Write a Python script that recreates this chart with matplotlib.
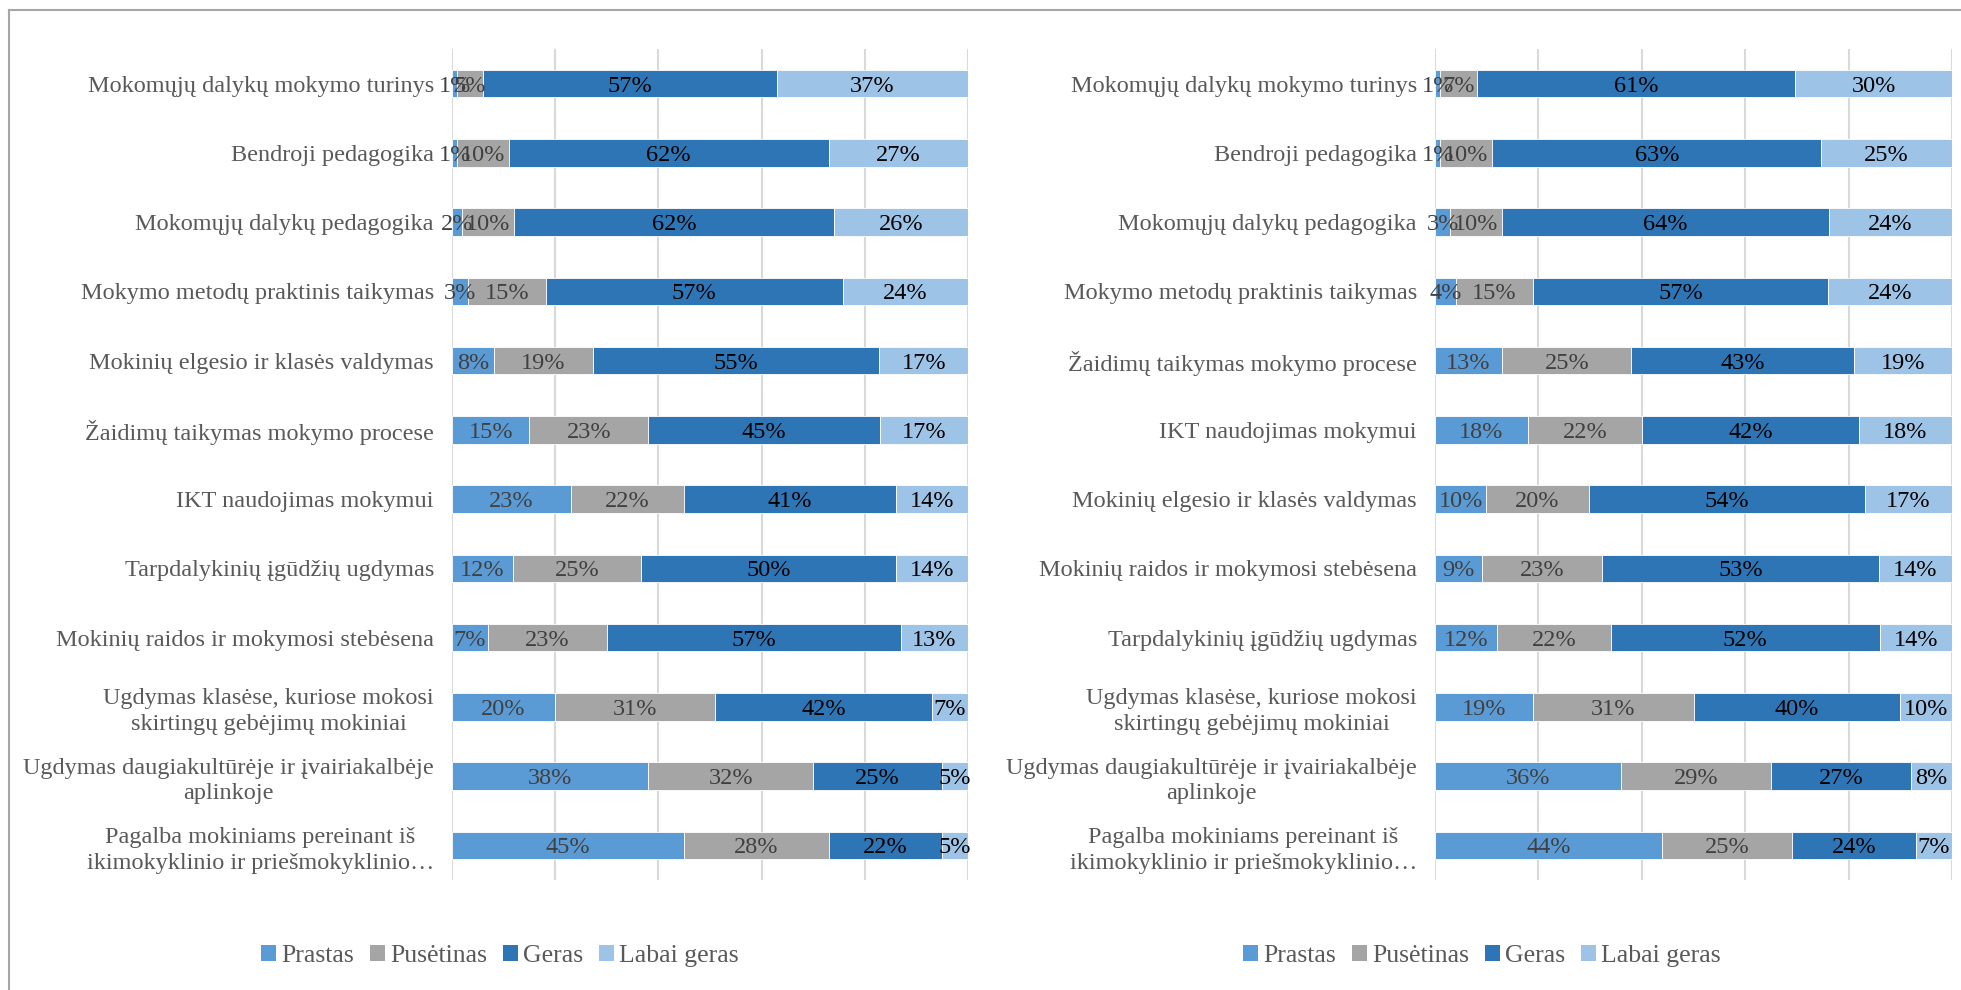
import matplotlib.pyplot as plt
from matplotlib.patches import Patch
import numpy as np

plt.rcParams['font.family'] = 'Liberation Serif'

series = ['Prastas', 'Pusėtinas', 'Geras', 'Labai geras']
colors = ['#5B9BD5', '#A5A5A5', '#2E75B6', '#9DC3E6']
label_colors = ['#404040', '#404040', '#000000', '#000000']

# kairioji diagrama (kategorijos iš viršaus į apačią)
cats_left = [
    'Mokomųjų dalykų mokymo turinys',
    'Bendroji pedagogika',
    'Mokomųjų dalykų pedagogika',
    'Mokymo metodų praktinis taikymas',
    'Mokinių elgesio ir klasės valdymas',
    'Žaidimų taikymas mokymo procese',
    'IKT naudojimas mokymui',
    'Tarpdalykinių įgūdžių ugdymas',
    'Mokinių raidos ir mokymosi stebėsena',
    'Ugdymas klasėse, kuriose mokosi\nskirtingų gebėjimų mokiniai',
    'Ugdymas daugiakultūrėje ir įvairiakalbėje\naplinkoje',
    'Pagalba mokiniams pereinant iš\nikimokyklinio ir priešmokyklinio…',
]
prastas_left = [1, 1, 2, 3, 8, 15, 23, 12, 7, 20, 38, 45]
pusetinas_left = [5, 10, 10, 15, 19, 23, 22, 25, 23, 31, 32, 28]
geras_left = [57, 62, 62, 57, 55, 45, 41, 50, 57, 42, 25, 22]
labai_left = [37, 27, 26, 24, 17, 17, 14, 14, 13, 7, 5, 5]

# dešinioji diagrama
cats_right = [
    'Mokomųjų dalykų mokymo turinys',
    'Bendroji pedagogika',
    'Mokomųjų dalykų pedagogika',
    'Mokymo metodų praktinis taikymas',
    'Žaidimų taikymas mokymo procese',
    'IKT naudojimas mokymui',
    'Mokinių elgesio ir klasės valdymas',
    'Mokinių raidos ir mokymosi stebėsena',
    'Tarpdalykinių įgūdžių ugdymas',
    'Ugdymas klasėse, kuriose mokosi\nskirtingų gebėjimų mokiniai',
    'Ugdymas daugiakultūrėje ir įvairiakalbėje\naplinkoje',
    'Pagalba mokiniams pereinant iš\nikimokyklinio ir priešmokyklinio…',
]
prastas_right = [1, 1, 3, 4, 13, 18, 10, 9, 12, 19, 36, 44]
pusetinas_right = [7, 10, 10, 15, 25, 22, 20, 23, 22, 31, 29, 25]
geras_right = [61, 63, 64, 57, 43, 42, 54, 53, 52, 40, 27, 24]
labai_right = [30, 25, 24, 24, 19, 18, 17, 14, 14, 10, 8, 7]

W, H = 1961, 990
fig = plt.figure(figsize=(W / 100, H / 100), dpi=100)
fig.patch.set_facecolor('white')

# rėmelis (kairys ir viršutinis kraštai)
fig.add_artist(plt.Line2D([9 / W, 9 / W], [0, 1 - 10 / H], transform=fig.transFigure,
                          color='#A6A6A6', lw=1.5))
fig.add_artist(plt.Line2D([9 / W, 1], [1 - 10 / H, 1 - 10 / H], transform=fig.transFigure,
                          color='#A6A6A6', lw=1.5))


def draw(ax, cats, data):
    vals = np.array(data, dtype=float)  # 4 x n
    shares = vals / vals.sum(axis=0)
    y = np.arange(len(cats))
    left = np.zeros(len(cats))
    for i in range(4):
        ax.barh(y, shares[i], left=left, height=0.4, color=colors[i],
                edgecolor='white', linewidth=0.6, zorder=3)
        for j in range(len(cats)):
            ax.text(left[j] + shares[i][j] / 2, y[j], f'{int(vals[i][j])}%',
                    ha='center', va='center_baseline', fontsize=17.5,
                    color=label_colors[i], zorder=4, clip_on=False)
        left += shares[i]
    ax.set_xlim(0, 1)
    ax.set_ylim(len(cats) - 0.5, -0.5)
    ax.set_xticks(np.arange(0, 1.01, 0.2))
    ax.set_xticklabels([])
    ax.tick_params(axis='x', length=0)
    ax.tick_params(axis='y', length=0, pad=13, labelsize=17.5, labelcolor='#595959')
    ax.set_yticks(y)
    ax.set_yticklabels(cats, multialignment='center', linespacing=1.3)
    ax.grid(axis='x', color='#D9D9D9', lw=1.5, zorder=0)
    for s in ax.spines.values():
        s.set_visible(False)


ax1 = fig.add_axes([452 / W, 110 / H, 516 / W, 831 / H])
draw(ax1, cats_left, [prastas_left, pusetinas_left, geras_left, labai_left])

ax2 = fig.add_axes([1435 / W, 110 / H, 517 / W, 831 / H])
draw(ax2, cats_right, [prastas_right, pusetinas_right, geras_right, labai_right])

handles = [Patch(facecolor=c, edgecolor='none') for c in colors]
for cx in (500 / W, 1482 / W):
    leg = fig.legend(handles, series, loc='center', bbox_to_anchor=(cx, 34 / H), ncol=4,
                     frameon=False, fontsize=18.5, handlelength=0.6, handleheight=0.6,
                     handletextpad=0.2, columnspacing=0.6)
    for t in leg.get_texts():
        t.set_color('#595959')

fig.savefig('out.png', dpi=100, facecolor='white')
